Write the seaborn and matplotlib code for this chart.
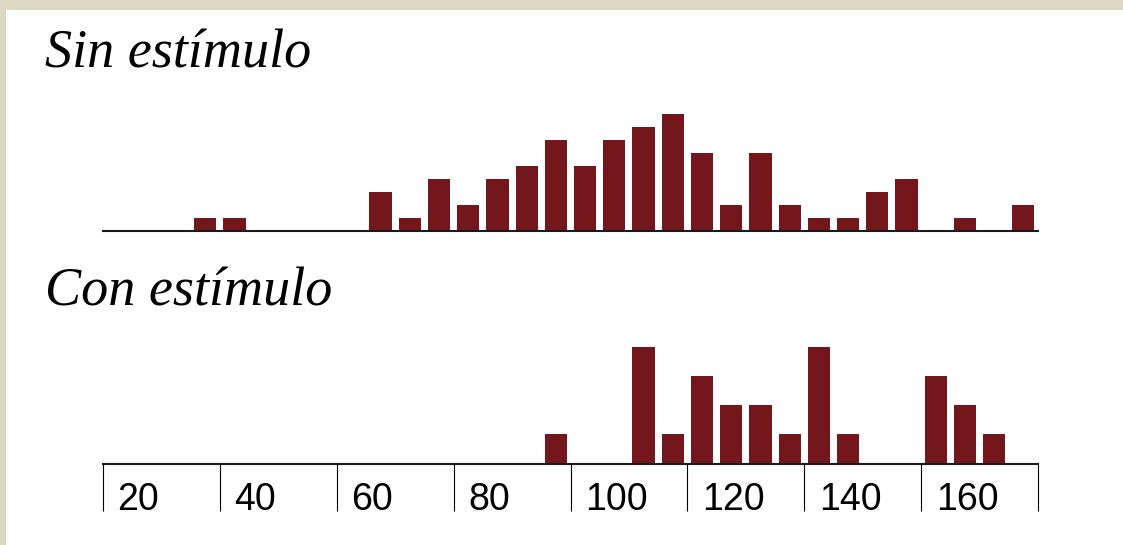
import matplotlib
matplotlib.use("Agg")
import matplotlib.pyplot as plt
from matplotlib.patches import Rectangle
import seaborn as sns
import numpy as np

# histogram bins (left edges, width 5) and counts
bin_starts = list(range(20, 180, 5))
sin_counts = [0, 0, 0, 1, 1, 0, 0, 0, 0, 3, 1, 4, 2, 4, 5, 7,
              5, 7, 8, 9, 6, 2, 6, 2, 1, 1, 3, 4, 0, 1, 0, 2]
con_counts = [0, 0, 0, 0, 0, 0, 0, 0, 0, 0, 0, 0, 0, 0, 0, 1,
              0, 0, 4, 1, 3, 2, 2, 1, 4, 1, 0, 0, 3, 2, 1, 0]
tick_vals = [20, 40, 60, 80, 100, 120, 140, 160, 180]
titles = ["Sin estímulo", "Con estímulo"]

bar_color = "#74171c"
W, H = 1123, 545

sns.set_style("white")
plt.rcParams["font.family"] = ["Liberation Sans", "DejaVu Sans"]

fig = plt.figure(figsize=(W / 100, H / 100), dpi=100)
fig.patch.set_facecolor("#ddd8c3")
fig.add_artist(Rectangle((6 / W, 0), 1, (H - 10) / H, transform=fig.transFigure,
                         facecolor="white", edgecolor="none", zorder=0))

centers = np.array(bin_starts) + 2.5

def draw_hist(bottom_px, counts, ymax):
    ax = fig.add_axes([103 / W, (H - bottom_px) / H, 935 / W, 117 / H])
    ax.set_facecolor("none")
    sns.histplot(x=centers, weights=counts, binwidth=5, binrange=(20, 180),
                 shrink=0.76, color=bar_color, alpha=1, linewidth=0, ax=ax)
    ax.set_xlim(20, 180)
    ax.set_ylim(0, ymax)
    ax.set_xlabel("")
    ax.set_ylabel("")
    ax.set_yticks([])
    for s in ["left", "right", "top"]:
        ax.spines[s].set_visible(False)
    ax.spines["bottom"].set_linewidth(1.5)
    ax.spines["bottom"].set_color("#1a1a1a")
    return ax

ax1 = draw_hist(230.7, sin_counts, max(sin_counts))
ax1.set_xticks([])

ax2 = draw_hist(463.7, con_counts, max(con_counts))
ax2.set_xticks(tick_vals)
ax2.set_xticklabels([])
ax2.tick_params(axis="x", direction="out", length=34, width=0.8, color="black", bottom=True)
for v in tick_vals[:-1]:
    ax2.annotate(str(v), xy=(v, 0), xycoords=("data", "axes fraction"),
                 xytext=(10.5, -33), textcoords="offset points",
                 ha="left", va="baseline", fontsize=27, color="black")

for t, ybase in zip(titles, [67, 305]):
    fig.text(45 / W, 1 - ybase / H, t, family="Liberation Serif", style="italic",
             fontsize=39, va="baseline", ha="left", color="black")

fig.savefig("out.png", dpi=100)
